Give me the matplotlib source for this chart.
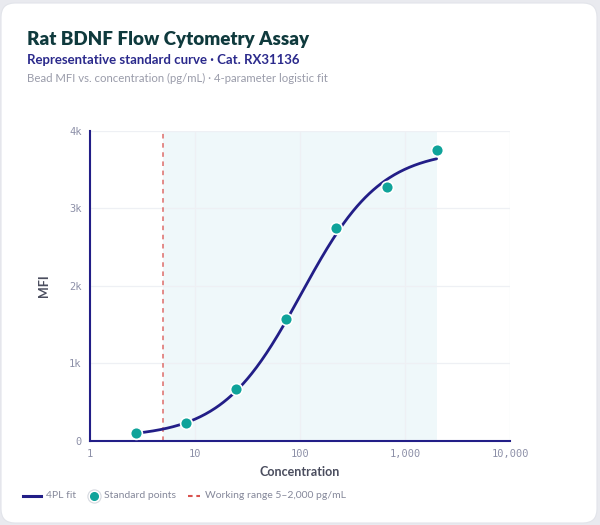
import numpy as np
import matplotlib
matplotlib.use("Agg")
import matplotlib.pyplot as plt
from matplotlib.patches import FancyBboxPatch
from matplotlib.lines import Line2D

# ---- data ----
concentration = [2.74, 8.23, 24.7, 74.1, 222.0, 667.0, 2000.0]   # pg/mL
mfi = [95, 224, 663, 1566, 2753, 3282, 3755]
# 4PL fit parameters (bottom, top, EC50, Hill slope)
fit_bottom = 40.0
fit_top = 3760.0
fit_ec50 = 103.0
fit_hill = 1.15
working_range = [5, 2000]
x_ticks = [1, 10, 100, 1000, 10000]
x_tick_labels = ["1", "10", "100", "1,000", "10,000"]
y_ticks = [0, 1000, 2000, 3000, 4000]
y_tick_labels = ["0", "1k", "2k", "3k", "4k"]

title = "Rat BDNF Flow Cytometry Assay"
subtitle = "Representative standard curve · Cat. RX31136"
note = "Bead MFI vs. concentration (pg/mL) · 4-parameter logistic fit"
legend_labels = ["4PL fit", "Standard points", "Working range 5–2,000 pg/mL"]

# ---- colors ----
NAVY = "#221e87"
TEAL = "#0fa39a"
RED = "#d9534f"
BAND = "#eff8fa"
GRID = "#eef0f4"
TICK = "#8d90a8"

W, H = 600, 525
fig = plt.figure(figsize=(W / 100, H / 100), dpi=100)
fig.patch.set_facecolor("#e9eaef")

card = FancyBboxPatch((1, 2), 596, 520, boxstyle="round,pad=0,rounding_size=14",
                      transform=None, facecolor="white", edgecolor="#e2e4ea",
                      linewidth=0.8, zorder=-10)
fig.patches.append(card)

def fx(px):
    return px / W

def fy(py):
    return 1 - py / H

ax = fig.add_axes([fx(90), fy(440.7), fx(510) - fx(90), fy(131) - fy(440.7)])
ax.set_zorder(1)
ax.set_facecolor("none")
ax.set_xscale("log")
ax.set_xlim(1, 10000)
ax.set_ylim(0, 4000)

ax.axvspan(working_range[0], working_range[1], color=BAND, zorder=0, lw=0)
ax.set_xticks(x_ticks)
ax.set_xticklabels(x_tick_labels)
ax.set_yticks(y_ticks)
ax.set_yticklabels(y_tick_labels)
ax.xaxis.set_minor_locator(matplotlib.ticker.NullLocator())
ax.grid(True, color=GRID, lw=0.9, zorder=0.5)
ax.set_axisbelow(True)
for s in ["top", "right"]:
    ax.spines[s].set_visible(False)
for s in ["left", "bottom"]:
    ax.spines[s].set_color(NAVY)
    ax.spines[s].set_linewidth(1.5)
ax.tick_params(length=0, pad=6, colors=TICK, labelsize=7.5)
for lab in ax.get_xticklabels() + ax.get_yticklabels():
    lab.set_fontfamily("DejaVu Sans Mono")
    lab.set_color(TICK)

ax.axvline(working_range[0], color=RED, lw=1.1, ls=(0, (3, 3)), alpha=0.85, zorder=1)

xc = np.logspace(np.log10(min(concentration)), np.log10(max(concentration)), 300)
yc = fit_top + (fit_bottom - fit_top) / (1 + (xc / fit_ec50) ** fit_hill)
ax.plot(xc, yc, color=NAVY, lw=2.0, solid_capstyle="round", zorder=3)
ax.plot(concentration, mfi, "o", color=TEAL, ms=8.5, mec="white", mew=1.2, zorder=4,
        clip_on=False)

ax.set_xlabel("Concentration", fontfamily="Lato", fontweight="bold", fontsize=9,
              color="#4a4d5e", labelpad=5)
ax.set_ylabel("MFI", fontfamily="Lato", fontweight="bold", fontsize=9,
              color="#4a4d5e", labelpad=14)

# ---- header ----
fig.text(fx(27), fy(45), title, fontfamily="Lato", fontweight="heavy", fontsize=13.5,
         color="#0f3a3d", va="baseline")
fig.text(fx(27), fy(64), subtitle, fontfamily="Lato", fontweight="bold", fontsize=9.5,
         color="#2b2a8c", va="baseline")
fig.text(fx(27), fy(82), note, fontfamily="Lato", fontsize=8.2, color="#9a9caa",
         va="baseline")

# ---- legend ----
ly = fy(496)
LEG = dict(fontfamily="Lato", fontsize=7.5, color="#85889a", va="center")
fig.add_artist(Line2D([fx(23), fx(41)], [ly, ly], color=NAVY, lw=2.2,
                      transform=fig.transFigure))
fig.text(fx(46), ly, legend_labels[0], **LEG)
fig.add_artist(Line2D([fx(94)], [ly], marker="o", ms=9.5, mfc="white", mec="#d5d8df",
                      mew=0.8, transform=fig.transFigure))
fig.add_artist(Line2D([fx(94)], [ly], marker="o", ms=5.5, mfc=TEAL, mec=TEAL,
                      transform=fig.transFigure))
fig.text(fx(104), ly, legend_labels[1], **LEG)
fig.add_artist(Line2D([fx(188), fx(200)], [ly, ly], color=RED, lw=1.5, ls=(0, (2.2, 1.8)),
                      transform=fig.transFigure))
fig.text(fx(205), ly, legend_labels[2], **LEG)

fig.savefig("out.png", dpi=100, facecolor=fig.get_facecolor())
